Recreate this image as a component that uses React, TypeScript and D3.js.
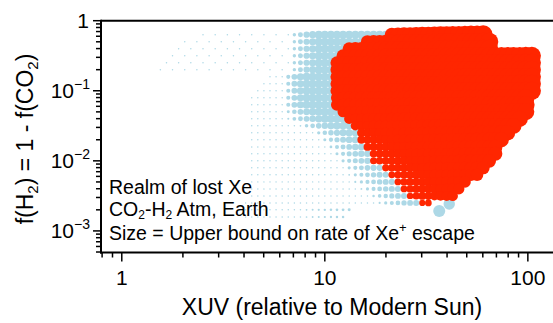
import React from 'react';
import * as d3 from 'd3';

// ---- Parameter sweep: XUV flux columns and H2 fraction rows ----
const xuvColumns = [
  1.445, 1.549, 1.66, 1.778, 1.905, 2.042, 2.188, 2.344, 2.512, 2.692,
  2.884, 3.09, 3.311, 3.548, 3.802, 4.074, 4.365, 4.677, 5.012, 5.37,
  5.754, 6.166, 6.607, 7.079, 7.586, 8.128, 8.71, 9.333, 10.0, 10.72,
  11.48, 12.3, 13.18, 14.13, 15.14, 16.22, 17.38, 18.62, 19.95, 21.38,
  22.91, 24.55, 26.3, 28.18, 30.2, 32.36, 34.67, 37.15, 39.81, 42.66,
  45.71, 48.98, 52.48, 56.23, 60.26, 64.57, 69.18, 74.13, 79.43, 85.11,
  91.2, 97.72, 104.7, 112.2,
];

const fH2Rows = [
  0.631, 0.501, 0.398, 0.316, 0.251, 0.2, 0.158, 0.126, 0.1, 0.0794,
  0.0631, 0.0501, 0.0398, 0.0316, 0.0251, 0.02, 0.0158, 0.0126, 0.01, 0.00794,
  0.00631, 0.00501, 0.00398, 0.00316, 0.00251, 0.002, 0.00158,
];

// first XUV reached by each run
const rowStartXUV = [
  2.27, 2.0, 1.83, 1.67, 1.58, 1.49, 5.2, 4.91, 4.54, 4.43,
  4.38, 4.29, 4.29, 4.29, 4.29, 4.29, 4.29, 4.29, 4.29, 4.29,
  4.19, 4.19, 4.14, 4.14, 4.05, 4.05, 4.05,
];

// below this XUV only every other step of the run was saved
const sparseBelowXUV = [
  6.75, 6.75, 6.75, 6.75, 6.75, 6.75, 0, 0, 0, 0,
  0, 0, 0, 0, 0, 0, 0, 0, 0, 0,
  0, 0, 0, 0, 0, 0, 0,
];

// XUV range over which the escape-rate bound climbs (Xe retained)
const climbFromXUV = [
  6.75, 6.75, 6.75, 6.75, 6.75, 6.75, 6.23, 6.23, 6.23, 6.23,
  6.23, 6.37, 6.52, 7.55, 8.76, 9.48, 10.26, 10.86, 11.5, 12.31,
  13.03, 13.79, 14.93, 16.72, 18.1, 7.55, 7.55,
];
const climbToXUV = [
  9.27, 9.27, 9.27, 9.27, 9.27, 9.27, 8.0, 8.0, 8.0, 8.0,
  8.0, 8.96, 10.03, 11.24, 12.59, 13.63, 14.59, 15.27, 16.16, 17.3,
  18.73, 20.04, 21.46, 23.5, 26.92, 13.32, 12.88,
];
const retainedPeakRate = [
  0.177, 0.177, 0.177, 0.177, 0.177, 0.177, 0.177, 0.177, 0.177, 0.177,
  0.177, 0.177, 0.177, 0.16, 0.144, 0.136, 0.128, 0.121, 0.113, 0.106,
  0.1, 0.1, 0.1, 0.1, 0.1, 0.025, 0.019,
];
const retainedBaseRate = 0.0062;

// XUV range where Xe is lost, with the escape-rate bound at each end
const lostFromXUV: (number | null)[] = [
  21.0, 15.8, 13.3, 12.2, 11.6, 11.6, 11.6, 11.6, 11.6, 11.6,
  11.6, 11.87, 12.73, 13.63, 14.43, 15.1, 15.79, 16.53, 17.5, 18.94,
  20.74, 21.95, 23.5, 25.72, 29.48, null, null,
];
const lostToXUV: (number | null)[] = [
  63.5, 65.2, 66.7, 103.8, 103.8, 103.8, 103.8, 103.8, 103.8, 102.6,
  100.3, 97.0, 92.7, 88.6, 83.7, 78.2, 73.0, 69.0, 64.5, 60.2,
  55.6, 51.4, 47.5, 42.4, 33.8, null, null,
];
const lostRateFrom = [
  0.54, 0.47, 0.47, 0.47, 0.47, 0.47, 0.47, 0.47, 0.47, 0.4,
  0.4, 0.335, 0.277, 0.224, 0.195, 0.177, 0.16, 0.144, 0.136, 0.128,
  0.12, 0.113, 0.113, 0.106, 0.1, 0, 0,
];
const lostRateTo = [
  1.0, 0.9, 0.9, 0.9, 0.9, 0.9, 0.9, 0.9, 0.9, 0.86,
  0.86, 0.8, 0.745, 0.71, 0.674, 0.623, 0.574, 0.543, 0.512, 0.468,
  0.426, 0.4, 0.36, 0.3, 0.136, 0, 0,
];

// two isolated retained runs at low H2
const strayXUV = [36.6, 41.0];
const strayFH2 = [0.00192, 0.00242];
const strayRate = [0.4, 0.36];

// axes
const xMajorTicks = [1, 10, 100];
const xTickLabels = ['1', '10', '100'];
const yMajorTicks = [1, 0.1, 0.01, 0.001];
const yTickExponents = ['', '−1', '−2', '−3'];

const W = 553;
const H = 323;
const LEFT = 101;
const TOP = 20.7;
const BOTTOM = 252.5;

const BLUE = '#add8e6';
const RED = '#ff2600';
const FONT = "'Liberation Sans', Arial, Helvetica, sans-serif";

type Pt = { xuv: number; fH2: number; rate: number; lost: boolean };

function climb(x: number, x0: number, x1: number, r0: number, r1: number) {
  const t = Math.max(0, Math.min(1, (Math.log(x) - Math.log(x0)) / (Math.log(x1) - Math.log(x0))));
  return r0 + (r1 - r0) * t;
}

function buildPoints(): Pt[] {
  const pts: Pt[] = [];
  fH2Rows.forEach((fH2, i) => {
    const lf = lostFromXUV[i];
    const lt = lostToXUV[i];
    xuvColumns.forEach((xuv, j) => {
      if (xuv < rowStartXUV[i] * 0.985) return;
      if (lf !== null && lt !== null && xuv >= lf * 0.985) {
        if (xuv > lt * 1.015) return;
        pts.push({ xuv, fH2, rate: climb(xuv, lf, lt, lostRateFrom[i], lostRateTo[i]), lost: true });
        return;
      }
      if (lf === null && xuv > climbToXUV[i] * 1.015) return;
      if (xuv < sparseBelowXUV[i] && (i + j) % 2 === 1) return;
      pts.push({
        xuv,
        fH2,
        rate: climb(xuv, climbFromXUV[i], climbToXUV[i], retainedBaseRate, retainedPeakRate[i]),
        lost: false,
      });
    });
  });
  strayXUV.forEach((xuv, i) => pts.push({ xuv, fH2: strayFH2[i], rate: strayRate[i], lost: false }));
  return pts;
}

export default function App() {
  const x = d3.scaleLog().domain([0.79, 133]).range([LEFT, W]);
  const y = d3.scaleLog().domain([4.92e-4, 1]).range([BOTTOM, TOP]);
  const size = d3.scaleSqrt().domain([0, 1]).range([0, 9.5]);

  const pts = buildPoints();
  const retained = pts.filter((p) => !p.lost);
  const lost = pts.filter((p) => p.lost);

  const xMinor = x.ticks().filter((t) => !xMajorTicks.includes(t));
  const yMinor = y.ticks().filter((t) => !yMajorTicks.some((m) => Math.abs(m - t) / m < 1e-6));

  return (
    <svg
      width={W}
      height={H}
      viewBox={`0 0 ${W} ${H}`}
      style={{ position: 'absolute', left: 0, top: 0, background: '#fff' }}
      fontFamily={FONT}
    >
      <g>
        {retained.map((p, i) => (
          <circle key={`b${i}`} cx={x(p.xuv)} cy={y(p.fH2)} r={size(p.rate)} fill={BLUE} />
        ))}
        {lost.map((p, i) => (
          <circle key={`r${i}`} cx={x(p.xuv)} cy={y(p.fH2)} r={size(p.rate)} fill={RED} />
        ))}
      </g>

      {/* frame */}
      <line x1={LEFT} x2={W} y1={TOP} y2={TOP} stroke="#000" strokeWidth={2} />
      <line x1={LEFT} x2={LEFT} y1={TOP - 1} y2={BOTTOM + 1} stroke="#000" strokeWidth={2} />
      <line x1={LEFT - 1} x2={W} y1={BOTTOM} y2={BOTTOM} stroke="#000" strokeWidth={2} />

      {/* x ticks */}
      {xMinor.map((t) => (
        <line key={`xm${t}`} x1={x(t)} x2={x(t)} y1={BOTTOM} y2={BOTTOM + 5} stroke="#000" strokeWidth={1.5} />
      ))}
      {xMajorTicks.map((t, i) => (
        <g key={`xM${t}`}>
          <line x1={x(t)} x2={x(t)} y1={BOTTOM} y2={BOTTOM + 9} stroke="#000" strokeWidth={1.5} />
          <text x={x(t)} y={285} textAnchor="middle" fontSize={21}>
            {xTickLabels[i]}
          </text>
        </g>
      ))}

      {/* y ticks */}
      {yMinor.map((t) => (
        <line key={`ym${t}`} x1={LEFT - 5} x2={LEFT} y1={y(t)} y2={y(t)} stroke="#000" strokeWidth={1.5} />
      ))}
      {yMajorTicks.map((t, i) => (
        <g key={`yM${t}`}>
          <line x1={LEFT - 8} x2={LEFT} y1={y(t)} y2={y(t)} stroke="#000" strokeWidth={1.5} />
          {yTickExponents[i] === '' ? (
            <text x={89} y={y(t) + 7.5} textAnchor="end" fontSize={21}>
              1
            </text>
          ) : (
            <text x={90} y={y(t) + 7.5} textAnchor="end" fontSize={21}>
              10
              <tspan dy={-9} fontSize={14}>
                {yTickExponents[i]}
              </tspan>
            </text>
          )}
        </g>
      ))}

      {/* axis titles */}
      <text x={332} y={315} textAnchor="middle" fontSize={23}>
        XUV (relative to Modern Sun)
      </text>
      <text transform="translate(33,139) rotate(-90)" textAnchor="middle" fontSize={23}>
        f(H
        <tspan dy={5} fontSize={15}>2</tspan>
        <tspan dy={-5}>) = 1 - f(CO</tspan>
        <tspan dy={5} fontSize={15}>2</tspan>
        <tspan dy={-5}>)</tspan>
      </text>

      {/* annotation */}
      <g fontSize={19.5}>
        <text x={109} y={194}>Realm of lost Xe</text>
        <text x={109} y={216}>
          CO
          <tspan dy={3} fontSize={12}>2</tspan>
          <tspan dy={-3}>-H</tspan>
          <tspan dy={3} fontSize={12}>2</tspan>
          <tspan dy={-3}> Atm, Earth</tspan>
        </text>
        <text x={109} y={240}>
          Size = Upper bound on rate of Xe
          <tspan dy={-8} fontSize={13}>+</tspan>
          <tspan dy={8}> escape</tspan>
        </text>
      </g>
    </svg>
  );
}
